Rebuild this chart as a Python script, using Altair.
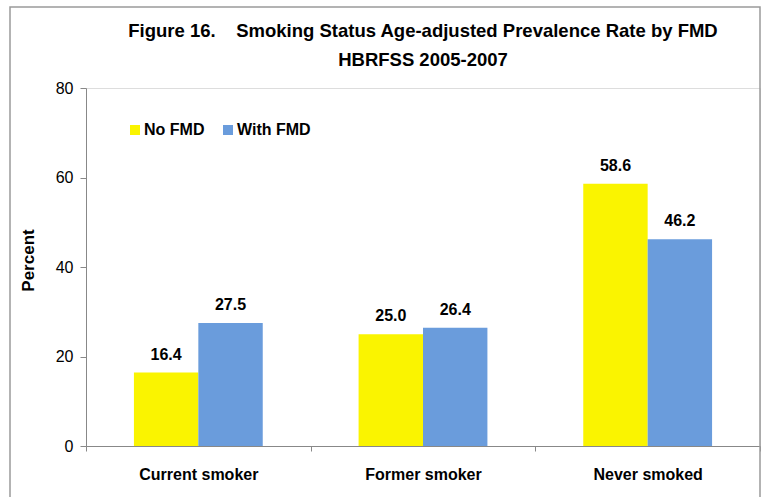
import altair as alt
import pandas as pd

# Smoking status by FMD group (age-adjusted prevalence, %)
categories = ["Current smoker", "Former smoker", "Never smoked"]
groups = ["No FMD", "With FMD"]
no_fmd = [16.4, 25.0, 58.6]
with_fmd = [27.5, 26.4, 46.2]
colors = ["#FAF400", "#6A9CDC"]
y_ticks = [0, 20, 40, 60, 80]
title_lines = ["Figure 16.\u00a0\u00a0\u00a0 Smoking Status Age-adjusted Prevalence Rate by FMD",
               "HBRFSS 2005-2007"]

rows = []
for cat, a, b in zip(categories, no_fmd, with_fmd):
    rows.append({"status": cat, "group": groups[0], "pct": a, "label": f"{a:.1f}"})
    rows.append({"status": cat, "group": groups[1], "pct": b, "label": f"{b:.1f}"})
df = pd.DataFrame(rows)

FONT = "Liberation Sans"

x_enc = alt.X(
    "status:N",
    sort=categories,
    scale=alt.Scale(paddingInner=0, paddingOuter=0),
    axis=alt.Axis(
        title=None,
        tickBand="extent",
        labelAngle=0,
        labelFont=FONT,
        labelFontSize=16,
        labelFontWeight="bold",
        labelColor="#000000",
        labelPadding=15,
        tickSize=5,
        tickColor="#888888",
        domainColor="#888888",
        grid=False,
    ),
)
xoff_enc = alt.XOffset(
    "group:N",
    sort=groups,
    scale=alt.Scale(paddingInner=0, paddingOuter=0.744),
)
y_enc = alt.Y(
    "pct:Q",
    scale=alt.Scale(domain=[0, 80], nice=False),
    axis=alt.Axis(
        title="Percent",
        values=y_ticks,
        titleFont=FONT,
        titleFontSize=17,
        titleFontWeight="bold",
        titleColor="#000000",
        titlePadding=18,
        titleY=172,
        labelFont=FONT,
        labelFontSize=16,
        labelColor="#000000",
        labelPadding=7,
        tickSize=6,
        tickColor="#888888",
        domainColor="#888888",
        grid=False,
    ),
)

bars = alt.Chart(df).mark_bar().encode(
    x=x_enc,
    xOffset=xoff_enc,
    y=y_enc,
    color=alt.Color(
        "group:N",
        sort=groups,
        scale=alt.Scale(domain=groups, range=colors),
        legend=alt.Legend(
            title=None,
            orient="none",
            direction="horizontal",
            legendX=41,
            legendY=34,
            symbolType="square",
            symbolSize=100,
            symbolStrokeWidth=0,
            labelFont=FONT,
            labelFontSize=16,
            labelFontWeight="bold",
            labelColor="#000000",
            labelOffset=1,
            columnPadding=15,
        ),
    ),
)

labels = alt.Chart(df).mark_text(
    font=FONT, fontSize=16, fontWeight="bold", color="#000000",
    baseline="alphabetic", dy=-13,
).encode(
    x=alt.X("status:N", sort=categories),
    xOffset=alt.XOffset("group:N", sort=groups),
    y=alt.Y("pct:Q"),
    text="label:N",
)

# outer frame around the whole figure
frame = alt.Chart(pd.DataFrame({"k": [0]})).mark_rect(
    fill=None, stroke="#9A9A9A", strokeWidth=1.5, clip=False,
).encode(
    x=alt.value(-76), x2=alt.value(674),
    y=alt.value(-81), y2=alt.value(420),
)

# two-line heading centred over the plot area
head1 = alt.Chart(pd.DataFrame({"t": [title_lines[0]]})).mark_text(
    font=FONT, fontSize=18.5, fontWeight="bold", color="#000000",
    align="center", baseline="alphabetic", clip=False,
).encode(x=alt.value(337), y=alt.value(-51), text="t:N")
head2 = alt.Chart(pd.DataFrame({"t": [title_lines[1]]})).mark_text(
    font=FONT, fontSize=18.5, fontWeight="bold", color="#000000",
    align="center", baseline="alphabetic", clip=False,
).encode(x=alt.value(337), y=alt.value(-22), text="t:N")

chart = alt.layer(frame, bars, labels, head1, head2).properties(
    width=674,
    height=358,
    autosize=alt.AutoSizeParams(type="none"),
    padding={"left": 86, "top": 88, "right": 9, "bottom": 51},
).configure_view(stroke=None).configure(background="#FFFFFF")

chart.save("out.html", embed_options={"renderer": "svg", "actions": False})
